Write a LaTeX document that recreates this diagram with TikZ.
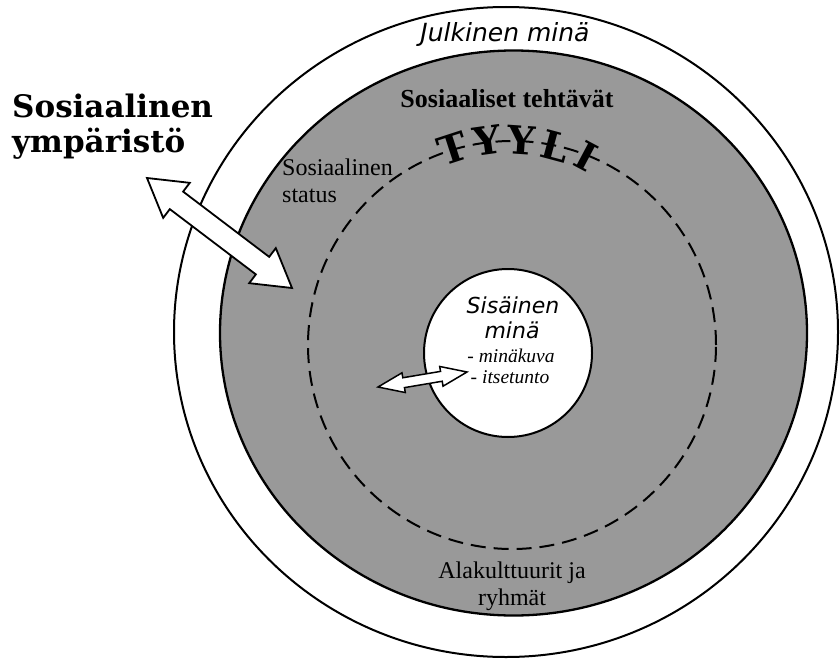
\documentclass[tikz,border=0pt]{standalone}
\usepackage{fontspec}
\setmainfont{Liberation Serif}
\newfontfamily\sansfam{DejaVu Sans}
\newfontfamily\slabfam{DejaVu Serif}
\usetikzlibrary{calc}
\definecolor{ringgray}{RGB}{153,153,153}

% double-headed block arrow between two named points
% #2 start, #3 end, #4 head length, #5 half head width, #6 half shaft width
\newcommand\blockarrow[6][]{%
  \draw[#1] (#2)
    -- ($(#2)!#4!(#3)!#5!90:(#3)$)
    -- ($(#2)!#4!(#3)!#6!90:(#3)$)
    -- ($(#3)!#4!(#2)!#6!-90:(#2)$)
    -- ($(#3)!#4!(#2)!#5!-90:(#2)$)
    -- (#3)
    -- ($(#3)!#4!(#2)!#5!90:(#2)$)
    -- ($(#3)!#4!(#2)!#6!90:(#2)$)
    -- ($(#2)!#4!(#3)!#6!-90:(#3)$)
    -- ($(#2)!#4!(#3)!#5!-90:(#3)$)
    -- cycle;}

\begin{document}
\begin{tikzpicture}[x=1pt,y=-1pt,
  ring/.style={draw=black,line width=2pt},
  arrowbody/.style={draw=black,fill=white,line width=1.8pt,line join=miter},
  plain/.style={inner sep=0pt,anchor=base},
  serifsm/.style={plain,font=\fontsize{24}{27}\selectfont},
  stylechar/.style={inner sep=0pt,font=\slabfam\bfseries\fontsize{39}{39}\selectfont}]
\useasboundingbox (0,0) rectangle (840,661);

% rings
\draw[ring,fill=white] (506,332) ellipse [x radius=332pt,y radius=325pt];
\draw[ring,line width=2.3pt,fill=ringgray] (513.5,333) ellipse [x radius=293.5pt,y radius=282.5pt];
\draw[line width=2pt,dash pattern=on 15pt off 8pt] (512,345) circle [radius=204pt];
\draw[ring,fill=white] (508,353) circle [radius=84pt];

% block arrows
\coordinate (envout) at (147,178);
\coordinate (envin) at (292,288);
\blockarrow[arrowbody]{envout}{envin}{37pt}{22pt}{11pt}
\coordinate (selfout) at (378,387);
\coordinate (selfin) at (467,372);
\blockarrow[arrowbody,line width=1.5pt]{selfout}{selfin}{26pt}{10pt}{5pt}

% labels
\node[plain,font=\sansfam\itshape\fontsize{25}{28}\selectfont] (public) at (505,42) {Julkinen minä};
\node[plain,font=\bfseries\fontsize{26}{28}\selectfont] (tasks) at (507,107) {Sosiaaliset tehtävät};
\node[serifsm,anchor=base west] (status1) at (282,175) {Sosiaalinen};
\node[serifsm,anchor=base west] (status2) at (282,202) {status};
\node[serifsm] (sub1) at (512,578) {Alakulttuurit ja};
\node[serifsm] (sub2) at (512,605) {ryhmät};
\node[plain,anchor=base west,font=\slabfam\bfseries\fontsize{31}{34}\selectfont] (env1) at (12,117) {Sosiaalinen};
\node[plain,anchor=base west,font=\slabfam\bfseries\fontsize{31}{34}\selectfont] (env2) at (12,152) {ympäristö};
\node[plain,font=\sansfam\itshape\fontsize{22}{24}\selectfont] (inner1) at (513,313) {Sisäinen};
\node[plain,font=\sansfam\itshape\fontsize{22}{24}\selectfont] (inner2) at (512,338) {minä};
\node[plain,font=\itshape\fontsize{19.5}{21}\selectfont] (inner3) at (511,362) {- minäkuva};
\node[plain,font=\itshape\fontsize{19.5}{21}\selectfont] (inner4) at (510,383) {- itsetunto};

% arched word
\node[stylechar,rotate=18] (t1) at (453,148) {T};
\node[stylechar,rotate=8] (t2) at (487,140) {Y};
\node[stylechar,rotate=-4] (t3) at (521,140) {Y};
\node[stylechar,rotate=-15] (t4) at (555,146) {L};
\node[stylechar,rotate=-28] (t5) at (586,156) {I};
\end{tikzpicture}
\end{document}
